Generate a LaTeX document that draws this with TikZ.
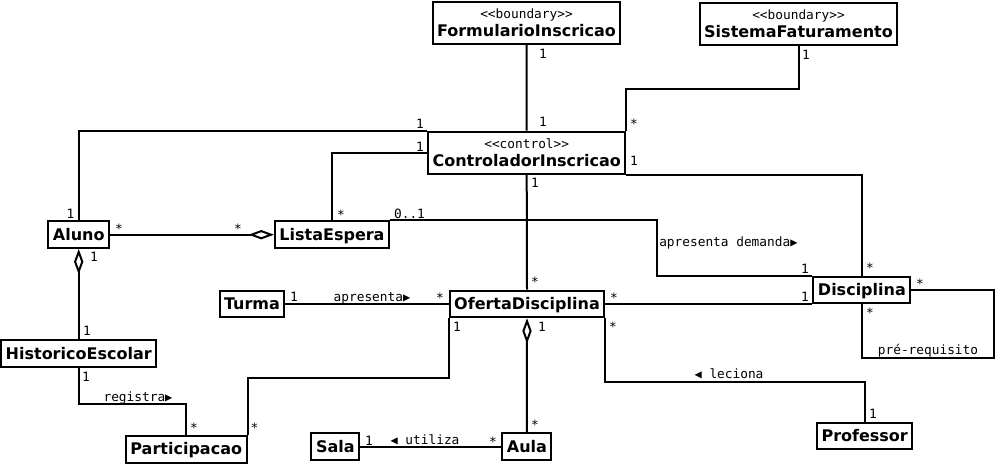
\documentclass[tikz,border=0pt]{standalone}
\usepackage{fontspec}
\setsansfont{DejaVu Sans}
\setmonofont{DejaVu Sans Mono}
\usepackage{tikz}
\usetikzlibrary{arrows.meta, positioning, calc}

\newcommand{\dirright}{{\fontsize{9}{11}\selectfont ▶}}
\newcommand{\dirleft}{{\fontsize{9}{11}\selectfont ◀}}

\begin{document}
\begin{tikzpicture}[
    x=0.75pt, y=-0.75pt,
    cls/.style={rectangle, draw, line width=1.5pt, inner xsep=3.4pt, minimum height=20pt, text height=9pt, text depth=1pt, font=\sffamily\bfseries\fontsize{12}{14}\selectfont},
    stereo/.style={rectangle, draw, line width=1.5pt, inner xsep=3.4pt, minimum height=31.5pt, align=center, font=\sffamily\bfseries\fontsize{12}{13.5}\selectfont},
    mult/.style={font=\ttfamily\fontsize{9.6}{11}\selectfont, inner sep=0pt, anchor=base},
    assoc/.style={line width=1.5pt},
    aggr/.style={{Diamond[open, length=19pt, width=7pt]}-}
]
    \useasboundingbox (0,0) rectangle (996,465);

    % Boundary and control classes
    \node[stereo] (form) at (526.5,23) {{\mdseries\ttfamily\fontsize{9.6}{11}\selectfont <<boundary>>}\\FormularioInscricao};
    \node[stereo] (fatur) at (798.5,24) {{\mdseries\ttfamily\fontsize{9.6}{11}\selectfont <<boundary>>}\\SistemaFaturamento};
    \node[stereo] (ctrl) at (526.7,152.7) {{\mdseries\ttfamily\fontsize{9.6}{11}\selectfont <<control>>}\\ControladorInscricao};

    % Entity classes
    \node[cls] (aluno) at (78.7,234.7) {Aluno};
    \node[cls] (lista) at (332,234.7) {ListaEspera};
    \node[cls] (turma) at (252,304) {Turma};
    \node[cls] (oferta) at (527,304) {OfertaDisciplina};
    \node[cls] (disc) at (861.9,290) {Disciplina};
    \node[cls] (hist) at (78.7,353.8) {HistoricoEscolar};
    \node[cls] (part) at (186.2,449.2) {Participacao};
    \node[cls] (sala) at (335.3,446.8) {Sala};
    \node[cls] (aula) at (526.9,446.8) {Aula};
    \node[cls] (prof) at (864.7,436) {Professor};

    % Associations of the controller
    \draw[assoc] (form.south) -- (ctrl.north);
    \draw[assoc] (fatur.south) -- ++(0,43) -| (ctrl.north east);
    \draw[assoc] (ctrl.south east) -| (disc.north);
    \draw[assoc] (ctrl.south) -- (oferta.north);
    \draw[assoc] (aluno.north) |- (ctrl.north west);
    \draw[assoc] (lista.north) |- (ctrl.west);

    % Other associations
    \draw[assoc, -{Diamond[open, length=19pt, width=7pt]}] (aluno.east) -- (lista.west);
    \draw[assoc] (lista.north east) -- ++(267,0) |- (disc.north west);
    \draw[assoc] (oferta.east) -- (oferta.east -| disc.west);
    \draw[assoc] (disc.east) -| ++(83,68) -| (disc.south);
    \draw[assoc] (oferta.south east) -- ++(0,64) -| (prof.north);
    \draw[assoc, aggr] (oferta.south) -- (aula.north);
    \draw[assoc] (sala.east) -- (aula.west);
    \draw[assoc] (turma.east) -- (oferta.west);
    \draw[assoc, aggr] (aluno.south) -- (hist.north);
    \draw[assoc] (hist.south) -- ++(0,36) -| (part.north);
    \draw[assoc] (oferta.south west) -- ++(0,60) -| (part.north east);

    % Multiplicities
    \node[mult] (m_form) at (543,58) {1};
    \node[mult] (m_ctrl_form) at (543,126) {1};
    \node[mult] (m_fatur) at (806,59) {1};
    \node[mult] (m_ctrl_fatur) at (634,128) {*};
    \node[mult] (m_ctrl_disc) at (634,165.6) {1};
    \node[mult] (m_ctrl_oferta) at (535,187.6) {1};
    \node[mult] (m_oferta_ctrl) at (535,286) {*};
    \node[mult] (m_disc_ctrl) at (870,272.7) {*};
    \node[mult] (m_disc_lista) at (805,273) {1};
    \node[mult] (m_oferta_disc) at (614,302.7) {*};
    \node[mult] (m_disc_oferta) at (805,301.6) {1};
    \node[mult] (m_disc_pre1) at (920,288) {*};
    \node[mult] (m_disc_pre2) at (870,317) {*};
    \node[mult] (m_oferta_prof) at (613,331.7) {*};
    \node[mult] (m_oferta_aula) at (542,331) {1};
    \node[mult] (m_prof) at (873,418) {1};
    \node[mult] (m_aula_oferta) at (535,429) {*};
    \node[mult] (m_sala) at (369,445.6) {1};
    \node[mult] (m_aula_sala) at (493,446) {*};
    \node[mult] (m_turma) at (294,301.6) {1};
    \node[mult] (m_oferta_turma) at (440,302) {*};
    \node[mult] (m_oferta_part) at (457,331) {1};
    \node[mult] (m_part_oferta) at (254.5,432) {*};
    \node[mult] (m_part_hist) at (194,432) {*};
    \node[mult] (m_hist_part) at (86,381) {1};
    \node[mult] (m_hist_aluno) at (87,335.6) {1};
    \node[mult] (m_aluno_hist) at (94,261.6) {1};
    \node[mult] (m_aluno_ctrl) at (70.5,218) {1};
    \node[mult] (m_aluno_lista) at (119,233) {*};
    \node[mult] (m_lista_aluno) at (238,233) {*};
    \node[mult] (m_ctrl_aluno) at (420,128.6) {1};
    \node[mult] (m_ctrl_lista) at (420,151) {1};
    \node[mult] (m_lista_ctrl) at (341,219) {*};
    \node[mult] (m_lista_disc) at (409.5,218) {0..1};

    % Association names
    \node[mult, anchor=base west] (n_demanda) at (659,246) {apresenta demanda\dirright};
    \node[mult] (n_prereq) at (928,354) {pré-requisito};
    \node[mult] (n_leciona) at (729,378) {\dirleft\ leciona};
    \node[mult] (n_utiliza) at (425,444) {\dirleft\ utiliza};
    \node[mult] (n_apresenta) at (372,301) {apresenta\dirright};
    \node[mult] (n_registra) at (138,401) {registra\dirright};

\end{tikzpicture}
\end{document}
